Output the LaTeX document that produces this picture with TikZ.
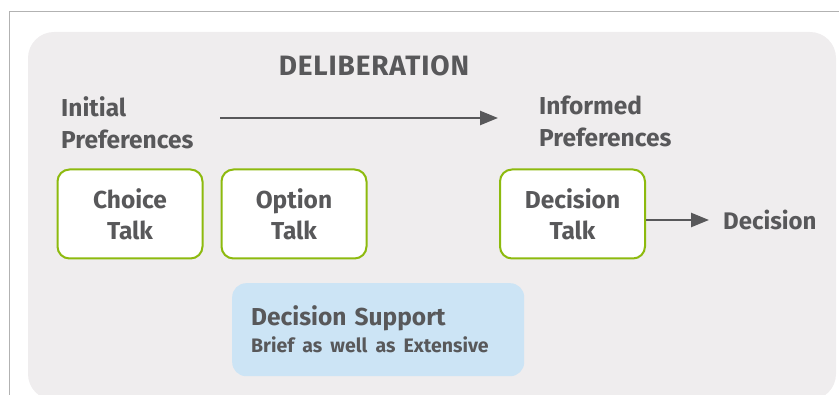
\documentclass[tikz,border=0pt]{standalone}
\usepackage{fontspec}
\setmainfont{Fira Sans}
\usetikzlibrary{positioning,arrows.meta}

\definecolor{txtgray}{HTML}{58585A}
\definecolor{panelgray}{HTML}{EFEDEE}
\definecolor{talkgreen}{HTML}{8DBA0E}
\definecolor{supportblue}{HTML}{CCE4F5}

\tikzset{
  talkbox/.style={draw=talkgreen, line width=2pt, fill=white, rounded corners=12pt,
    minimum width=145pt, minimum height=89pt, align=center, text=txtgray,
    font=\fontsize{24.5}{31}\selectfont\bfseries},
  label text/.style={align=left, text=txtgray, font=\fontsize{24.5}{32}\selectfont\bfseries},
  flow/.style={draw=txtgray, line width=2.5pt, -{Triangle[length=18pt, width=14pt]}}
}

\begin{document}
\begin{tikzpicture}[x=1pt, y=-1pt]
  \useasboundingbox (0,0) rectangle (839,395);
  % frame and panel
  \draw [gray!60, line width=1pt] (839,12) -- (9.5,12) -- (9.5,395);
  \fill [panelgray, rounded corners=26pt] (28,32) rectangle (836,400);

  \node [text=txtgray, font=\fontsize{28}{30}\selectfont\bfseries\addfontfeatures{LetterSpace=3}] (deliberation) at (374,66) {DELIBERATION};

  \node [label text, anchor=north west, inner sep=0pt] (initial) at (61,96) {Initial\\Preferences};
  \node [label text, anchor=north west, inner sep=0pt] (informed) at (539,96) {Informed\\Preferences};

  \coordinate (delibstart) at (220,118);
  \coordinate (delibend) at (498,118);
  \draw [flow] (delibstart) -- (delibend);

  \node [talkbox] (choice) at (130,214) {Choice\\Talk};
  \node [talkbox, right=17pt of choice] (option) {Option\\Talk};
  \node [talkbox] (dtalk) at (572.5,214) {Decision\\Talk};

  \node [text=txtgray, anchor=west, inner sep=0pt, font=\fontsize{24}{28}\selectfont\bfseries] (decision) at (723,220) {Decision};
  \draw [flow, shorten >=14pt] (dtalk.east |- decision) -- (decision);

  \node [fill=supportblue, rounded corners=14pt, minimum width=292pt, minimum height=93pt,
    align=left, text=txtgray, anchor=north west, text width=254pt, inner xsep=19pt,
    font=\fontsize{24.5}{27}\selectfont\bfseries] (support) at (232,283)
    {Decision Support\\
     {\fontsize{19.5}{27}\selectfont Brief as well as Extensive}};
\end{tikzpicture}
\end{document}
